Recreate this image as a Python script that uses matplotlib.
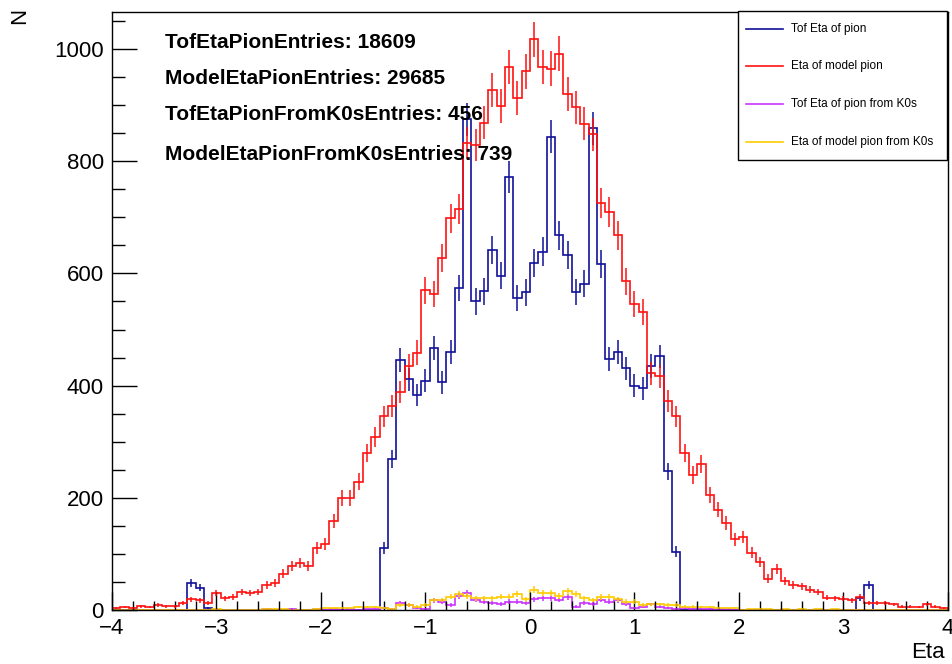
import numpy as np
import matplotlib.pyplot as plt
from matplotlib.patches import Rectangle
from matplotlib.lines import Line2D
from matplotlib.ticker import MultipleLocator

plt.rcParams['font.family'] = ['Liberation Sans', 'DejaVu Sans']

# 100 bins from -4 to 4
edges = np.linspace(-4, 4, 101)

model_pion = [3, 5, 3, 7, 5, 9, 7, 7, 12, 19,
              17, 12, 30, 21, 23, 32, 30, 32, 45, 48,
              65, 78, 84, 78, 111, 118, 158, 200, 200, 229,
              280, 308, 345, 364, 389, 435, 459, 570, 563, 627,
              698, 714, 833, 829, 869, 927, 898, 968, 912, 960,
              1017, 968, 965, 992, 919, 896, 867, 848, 725, 710,
              668, 586, 545, 531, 422, 417, 373, 345, 280, 241,
              261, 205, 179, 155, 126, 130, 102, 86, 56, 73,
              51, 45, 42, 36, 32, 22, 21, 20, 17, 24,
              12, 12, 12, 10, 6, 6, 5, 10, 6, 3]

tof_pion = [0, 0, 0, 0, 0, 0, 0, 0, 0, 48,
            40, 4, 0, 0, 0, 0, 0, 0, 0, 0,
            0, 0, 0, 0, 0, 0, 0, 0, 0, 0,
            0, 0, 110, 269, 446, 411, 384, 409, 467, 406,
            460, 574, 875, 550, 568, 642, 596, 772, 556, 566,
            619, 639, 844, 668, 633, 567, 582, 859, 617, 448,
            460, 431, 400, 395, 435, 452, 247, 104, 0, 0,
            0, 0, 0, 0, 0, 0, 0, 0, 0, 0,
            0, 0, 0, 0, 0, 0, 0, 0, 0, 21,
            45, 0, 0, 0, 0, 0, 0, 0, 0, 0]

tof_pion_k0s = [0, 0, 0, 0, 0, 0, 0, 0, 0, 0,
                0, 0, 0, 0, 0, 0, 0, 0, 2, 0,
                0, 2, 0, 0, 1, 0, 1, 0, 1, 0,
                1, 2, 3, 1, 12, 9, 3, 2, 17, 15,
                9, 25, 30, 18, 15, 13, 11, 15, 15, 12,
                19, 21, 21, 18, 23, 6, 12, 11, 18, 15,
                17, 11, 3, 6, 10, 6, 4, 2, 3, 2,
                2, 2, 1, 1, 0, 0, 0, 0, 0, 0,
                0, 0, 0, 0, 0, 0, 0, 0, 0, 0,
                0, 0, 0, 0, 0, 0, 0, 0, 0, 0]

model_pion_k0s = [0, 0, 0, 0, 0, 0, 0, 0, 0, 0,
                  0, 0, 1, 0, 0, 0, 0, 0, 2, 2,
                  1, 0, 0, 0, 2, 3, 3, 4, 4, 5,
                  5, 5, 3, 1, 9, 9, 6, 9, 18, 18,
                  24, 29, 25, 21, 21, 21, 24, 24, 29, 19,
                  36, 30, 30, 25, 33, 29, 21, 18, 23, 24,
                  19, 15, 15, 9, 10, 10, 9, 9, 6, 6,
                  5, 5, 4, 4, 3, 0, 1, 2, 1, 0,
                  1, 0, 2, 0, 1, 0, 1, 0, 0, 0,
                  0, 0, 0, 0, 0, 0, 0, 0, 0, 0]

series = [
    (tof_pion, '#10109a', 'Tof Eta of pion'),
    (model_pion, '#ff1010', 'Eta of model pion'),
    (tof_pion_k0s, '#cc33ff', 'Tof Eta of pion from K0s'),
    (model_pion_k0s, '#ffcc00', 'Eta of model pion from K0s'),
]

stats = ['TofEtaPionEntries: 18609',
         'ModelEtaPionEntries: 29685',
         'TofEtaPionFromK0sEntries: 456',
         'ModelEtaPionFromK0sEntries: 739']

W, H = 953, 664
fig = plt.figure(figsize=(W / 100, H / 100), dpi=100)
ax = fig.add_axes([112 / W, 1 - 610 / H, (948 - 112) / W, (610 - 12) / H])

centers = 0.5 * (edges[:-1] + edges[1:])
for vals, col, lab in series:
    v = np.array(vals, dtype=float)
    ax.stairs(v, edges, color=col, lw=1.2, baseline=0)
    m = v > 0
    ax.errorbar(centers[m], v[m], yerr=np.sqrt(v[m]), fmt='none',
                ecolor=col, elinewidth=1.1, capsize=0)

ax.set_xlim(-4, 4)
ax.set_ylim(0, 1066)
ax.xaxis.set_major_locator(MultipleLocator(1))
ax.xaxis.set_minor_locator(MultipleLocator(0.2))
ax.yaxis.set_major_locator(MultipleLocator(200))
ax.yaxis.set_minor_locator(MultipleLocator(50))
ax.tick_params(axis='x', which='major', direction='in', length=13, width=1,
               labelsize=16, pad=6, top=False)
ax.tick_params(axis='x', which='minor', direction='in', length=6.5, width=1, top=False)
ax.tick_params(axis='y', which='major', direction='in', length=18, width=1,
               labelsize=16, pad=6, right=False)
ax.tick_params(axis='y', which='minor', direction='in', length=9, width=1, right=False)
for s in ax.spines.values():
    s.set_linewidth(1)

fig.text(945 / W, 1 - 652 / H, 'Eta', fontsize=16, ha='right', va='center')
fig.text(20 / W, 1 - 16 / H, 'N', fontsize=16, ha='center', va='center', rotation=90)

ys = [43, 78, 115, 155]
for t, y in zip(stats, ys):
    fig.text(165 / W, 1 - y / H, t, fontsize=15, fontweight='bold',
             ha='left', va='center')

# legend box
fig.patches.append(Rectangle((738 / W, 1 - 160 / H), (947 - 738) / W, (160 - 11) / H,
                             transform=fig.transFigure, facecolor='white',
                             edgecolor='black', lw=1, zorder=5))
rows = [29, 66, 104, 142]
for (vals, col, lab), y in zip(series, rows):
    yy = 1 - y / H
    fig.lines.append(Line2D([746 / W, 783 / W], [yy, yy], transform=fig.transFigure,
                            color=col, lw=1.2, zorder=6))
    fig.text(791 / W, yy, lab, fontsize=8.5, ha='left', va='center', zorder=7)

fig.savefig('out.png', dpi=100)
